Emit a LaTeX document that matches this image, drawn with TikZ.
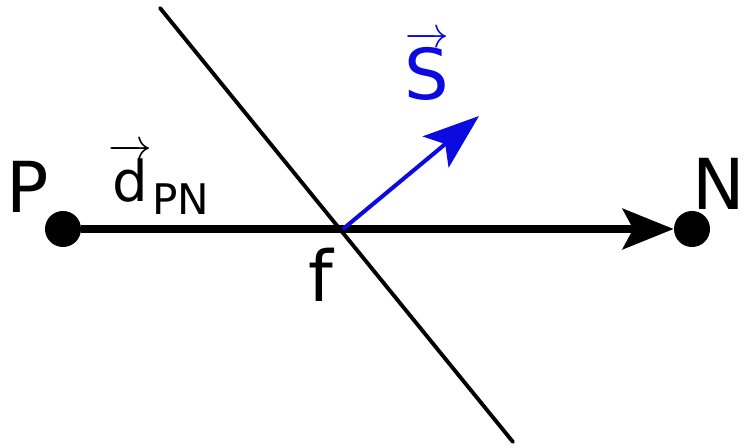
\documentclass[tikz,border=0pt]{standalone}
\usepackage{amsmath,amssymb}
\usepackage{fontspec}
\setmainfont{DejaVu Sans}
\usetikzlibrary{arrows.meta}

\definecolor{sblue}{RGB}{10,10,225}
\tikzset{
  dot/.style={circle,fill=black,inner sep=0pt,minimum size=20.5pt},
  lbl/.style={inner sep=0pt,font=\fontsize{40}{40}\selectfont},
  fluxline/.style={line width=4.3pt,-{Stealth[length=29pt,width=23pt,inset=6pt]}},
  faceline/.style={line width=2.2pt,line cap=round},
  svec/.style={line width=2.3pt,draw=sblue,-{Stealth[length=32pt,width=23pt,inset=7pt]}}
}

\begin{document}
\begin{tikzpicture}[x=0.02cm,y=-0.02cm]
    \useasboundingbox (0,0) rectangle (746,448);
    \node[dot] (P) at (63,229) {};
    \node[dot] (N) at (692,229) {};
    \coordinate (top) at (160,8);
    \coordinate (bot) at (513,442);
    \coordinate (f) at (343,229);
    \coordinate (tip) at (479,116);
    \draw[faceline] (top) -- (bot);
    \draw[fluxline] (P) -- (N);
    \draw[svec] (f) -- (tip);
    \node[lbl] (Plbl) at (28,187) {P};
    \node[lbl] (Nlbl) at (719,184) {N};
    \node[lbl] (flbl) at (321,275) {f};
    \node[lbl,text=sblue,anchor=base] (Slbl) at (427,100) {$\overrightarrow{\hbox{S}}$};
    \node[inner sep=0pt,anchor=base west] (dlbl) at (108,202)
      {\fontsize{32}{32}\selectfont$\overrightarrow{\hbox{d}}$\fontsize{24}{24}\selectfont\raisebox{-7.4pt}{PN}};
  \end{tikzpicture}
\end{document}
